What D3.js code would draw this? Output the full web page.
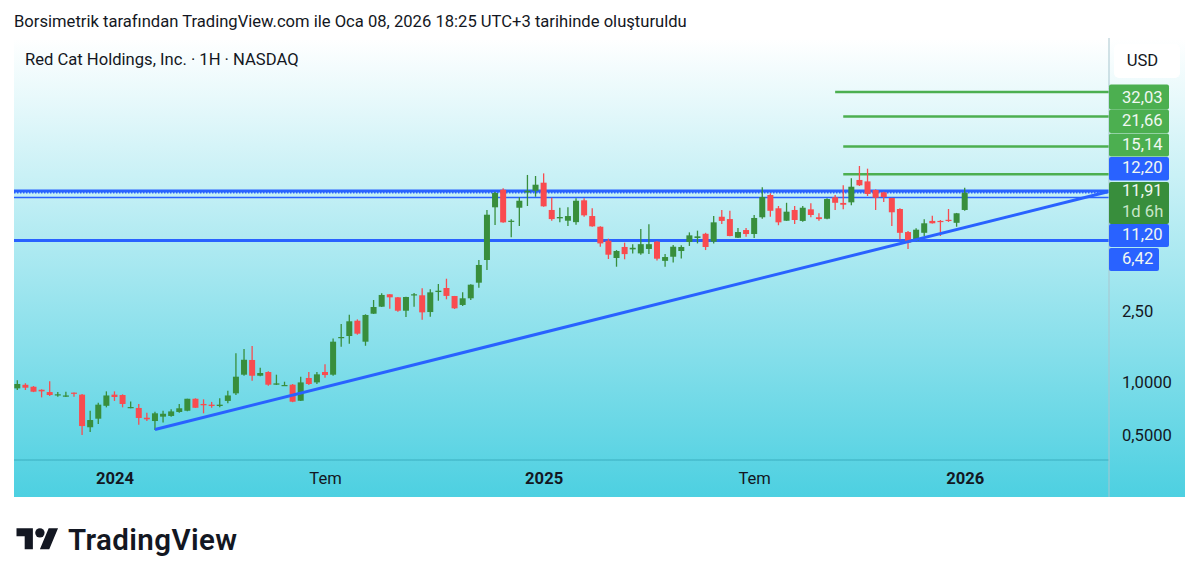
<!DOCTYPE html>
<html>
<head>
<meta charset="utf-8">
<script src="https://cdn.jsdelivr.net/npm/d3@7"></script>
<style>
    html, body { margin: 0; padding: 0; background: #fff; overflow: hidden; }
    text { font-family: Roboto, sans-serif; }
</style>
</head>
<body>
<div id="chart"></div>
<script>
// weekly candles
var opens = [
    .945, .99, .965, .928, .901, .867, .848, .894, .871, .571,
    .638, .754, .871, .867, .733, .733, .646, .619, .655, .661,
    .696, .707, .826, .772, .765, .752, .803, .886, 1.128, 1.365,
    1.113, 1.168, .991, .978, .991, .805, 1.081, 1.021, 1.168, 1.128,
    1.815, 1.862, 2.27, 1.73, 2.486, 2.722, 3.197, 3.074, 2.584, 3.156,
    3.156, 2.54, 3.292, 3.468, 3.126, 2.784, 3.035, 3.715, 4.985, 9.865,
    12.39, 8.19, 9.81, 11.97, 12.23, 13.57, 9.53, 8.55, 8.29, 8.14,
    10.8, 8.81, 7.67, 6.4, 5.115, 5.9, 5.72, 5.43, 5.75, 6.32,
    4.93, 5.2, 5.6, 6.3, 6.63, 7.0, 6.32, 8.73, 8.47, 6.65,
    7.35, 6.98, 8.67, 11.57, 9.74, 8.29, 9.53, 8.27, 9.61, 8.67,
    8.51, 11.23, 10.44, 10.52, 14.06, 13.8, 12.34, 11.97, 11.13, 9.65,
    7.16, 6.38, 7.09, 8.27, 8.27, 8.39, 8.07, 9.53
];
var highs = [
    1.05, 1.01, .974, .933, 1.035, .901, .905, .896, .879, .707,
    .785, .909, .909, .875, .798, .772, .69, .698, .707, .72,
    .772, .826, .831, .82, .793, .831, .917, 1.487, 1.573, 1.636,
    1.235, 1.178, 1.128, 1.03, 1.0, 1.099, 1.168, 1.168, 1.29, 1.8,
    2.177, 2.454, 2.31, 2.467, 2.969, 3.235, 3.2, 3.086, 3.1, 3.25,
    3.455, 3.41, 3.653, 3.911, 3.13, 3.278, 3.64, 4.985, 9.527, 12.07,
    12.62, 8.44, 11.23, 15.0, 14.8, 15.31, 11.17, 9.81, 9.87, 11.08,
    11.08, 9.74, 7.71, 6.57, 5.67, 6.24, 6.12, 7.45, 7.92, 6.38,
    5.38, 6.06, 6.04, 7.13, 7.29, 7.09, 8.81, 9.53, 9.43, 7.54,
    7.54, 8.93, 12.78, 11.83, 10.03, 10.46, 10.03, 10.03, 10.4, 9.13,
    11.08, 11.57, 13.12, 14.36, 16.85, 16.27, 12.45, 12.07, 11.17, 9.74,
    7.25, 7.52, 8.44, 8.85, 8.37, 9.65, 9.17, 12.72
];
var lows = [
    .925, .925, .9, .841, .856, .848, .845, .848, .517, .537,
    .596, .739, .803, .739, .73, .59, .619, .551, .608, .655,
    .69, .703, .733, .684, .735, .739, .78, .867, 1.113, 1.043,
    1.105, .978, .987, .974, .79, .803, .987, 1.0, 1.085, 1.113,
    1.62, 1.686, 1.894, 1.641, 2.478, 2.71, 2.652, 2.551, 2.382, 2.722,
    2.3, 2.39, 2.941, 2.996, 2.642, 2.747, 2.969, 3.481, 4.379, 7.85,
    8.07, 6.69, 7.74, 10.03, 11.31, 9.94, 8.29, 8.12, 7.74, 7.87,
    8.73, 7.67, 5.92, 5.05, 4.57, 5.03, 5.43, 5.34, 5.39, 4.96,
    4.57, 4.82, 5.09, 5.98, 6.18, 5.67, 6.18, 7.95, 6.78, 6.63,
    6.73, 6.63, 8.51, 8.73, 7.82, 8.27, 7.95, 8.19, 8.67, 8.29,
    8.44, 9.53, 9.61, 10.13, 13.0, 11.42, 9.53, 10.56, 7.74, 6.51,
    5.75, 6.36, 6.8, 8.0, 6.8, 8.16, 7.67, 9.43
];
var closes = [
    1.0, .953, .905, .909, .867, .875, .862, .882, .58, .627,
    .765, .862, .845, .772, .742, .644, .633, .684, .68, .701,
    .73, .826, .735, .759, .752, .765, .862, 1.099, 1.369, 1.113,
    1.153, .991, 1.008, .987, .795, 1.021, 1.0, 1.133, 1.123, 1.73,
    1.838, 2.253, 1.919, 2.445, 2.711, 3.169, 3.074, 2.584, 3.086, 3.197,
    2.53, 3.278, 3.349, 3.13, 2.666, 3.035, 3.62, 4.674, 8.962, 11.87,
    8.117, 8.29, 10.74, 12.23, 13.22, 9.99, 8.47, 8.7, 8.81, 10.74,
    8.89, 7.71, 6.18, 5.34, 5.6, 5.38, 5.84, 6.12, 6.12, 5.07,
    5.18, 5.92, 5.9, 6.86, 6.77, 5.9, 8.12, 8.27, 6.8, 7.16,
    6.98, 8.59, 11.27, 9.43, 8.12, 9.32, 8.37, 9.81, 8.93, 8.47,
    10.98, 10.46, 10.2, 12.88, 13.12, 11.73, 11.17, 11.27, 9.25, 7.09,
    6.25, 7.38, 8.02, 8.02, 8.16, 8.27, 9.13, 11.91
];

// drawn levels
var greenLevels = [43.9, 32.03, 21.66, 15.14];
var greenStarts = [101, 102, 102, 102];
var blueLevels = [12.20, 11.20, 6.42];
var lastPrice = 11.91;
var trendIdx = [17, 134.8];
var trendPrice = [.555, 12.1];

// axis labels
var priceTicks = [.5, 1, 2.5];
var priceTickLabels = ["0,5000", "1,0000", "2,50"];
var timeTicks = [12, 38, 65, 91, 117];
var timeTickLabels = ["2024", "Tem", "2025", "Tem", "2026"];
var tagLabels = ["", "32,03", "21,66", "15,14", "12,20", "11,91", "11,20", "6,42"];

var svgWidth = 1200;
var svgHeight = 581;
var fontSize = 16.6;
var pane = { left: 14, right: 1109, top: 38, bottom: 460, axisBottom: 497, axisRight: 1185 };

var svg = d3.select("#chart")
    .append("svg")
    .attr("width", svgWidth)
    .attr("height", svgHeight)
    .style("display", "block");

// background gradient runs over pane and both axes
var grad = svg.append("defs").append("linearGradient")
    .attr("id", "bg")
    .attr("x1", 0).attr("y1", 0)
    .attr("x2", 0).attr("y2", 1);
grad.append("stop").attr("offset", "0%").attr("stop-color", "#ffffff");
grad.append("stop").attr("offset", "100%").attr("stop-color", "#4dd0e1");

svg.append("rect")
    .attr("x", pane.left)
    .attr("y", pane.top)
    .attr("width", pane.axisRight - pane.left)
    .attr("height", pane.axisBottom - pane.top)
    .attr("fill", "url(#bg)");

svg.append("text")
    .attr("x", 14)
    .attr("y", 27)
    .attr("font-size", fontSize)
    .attr("fill", "#131722")
    .text("Borsimetrik tarafından TradingView.com ile Oca 08, 2026 18:25 UTC+3 tarihinde oluşturuldu");

// scales
var x = d3.scaleLinear().domain([0, 117]).range([17.3, 964.7]);
var y = d3.scaleLog().domain([.5, 32.03]).range([437.5, 116.4]);

// levels and trend line
var levelGroup = svg.append("g");

levelGroup.selectAll(".blue")
    .data(blueLevels)
    .enter()
    .append("line")
    .attr("class", "blue")
    .attr("x1", pane.left)
    .attr("x2", pane.right)
    .attr("y1", d => y(d))
    .attr("y2", d => y(d))
    .attr("stroke", "#2962ff")
    .attr("stroke-width", d => d === 11.20 ? 1.5 : 3);

levelGroup.append("line")
    .attr("x1", pane.left)
    .attr("x2", pane.right)
    .attr("y1", y(lastPrice))
    .attr("y2", y(lastPrice))
    .attr("stroke", "#2962ff")
    .attr("stroke-width", 1.5)
    .attr("stroke-dasharray", "1.5 1.5");

// candles
var candles = opens.map((d, i) => ({ i: i, o: d, h: highs[i], l: lows[i], c: closes[i] }));
var upColor = "#388e3c";
var downColor = "#f94b4f";

var candleGroup = svg.append("g");

candleGroup.selectAll(".wick")
    .data(candles)
    .enter()
    .append("line")
    .attr("class", "wick")
    .attr("x1", d => x(d.i))
    .attr("x2", d => x(d.i))
    .attr("y1", d => y(d.h))
    .attr("y2", d => y(d.l))
    .attr("stroke", d => d.c >= d.o ? upColor : downColor)
    .attr("stroke-width", 1.3);

candleGroup.selectAll(".body")
    .data(candles)
    .enter()
    .append("rect")
    .attr("class", "body")
    .attr("x", d => x(d.i) - 3)
    .attr("y", d => y(Math.max(d.o, d.c)))
    .attr("width", 6)
    .attr("height", d => Math.max(1.2, y(Math.min(d.o, d.c)) - y(Math.max(d.o, d.c))))
    .attr("fill", d => d.c >= d.o ? upColor : downColor);

levelGroup.append("g").selectAll("line")
    .data(greenLevels)
    .enter()
    .append("line")
    .attr("x1", (d, i) => x(greenStarts[i]))
    .attr("x2", pane.right)
    .attr("y1", d => y(d))
    .attr("y2", d => y(d))
    .attr("stroke", "#4caf50")
    .attr("stroke-width", 2.5);

svg.append("line")
    .attr("x1", x(trendIdx[0]))
    .attr("x2", x(trendIdx[1]))
    .attr("y1", y(trendPrice[0]))
    .attr("y2", y(trendPrice[1]))
    .attr("stroke", "#2962ff")
    .attr("stroke-width", 3);

// axes
var priceAxis = d3.axisRight(y)
    .tickValues(priceTicks)
    .tickSize(0)
    .tickPadding(13)
    .tickFormat((d, i) => priceTickLabels[i]);

var priceAxisG = svg.append("g")
    .attr("transform", `translate(${pane.right}, 0)`)
    .call(priceAxis);
priceAxisG.select(".domain").remove();
priceAxisG.selectAll("text")
    .attr("font-family", "Roboto, sans-serif")
    .attr("font-size", fontSize)
    .attr("fill", "#131722")
    .attr("dy", "0.2em");

var timeAxis = d3.axisBottom(x)
    .tickValues(timeTicks)
    .tickSize(0)
    .tickPadding(12)
    .tickFormat((d, i) => timeTickLabels[i]);

var timeAxisG = svg.append("g")
    .attr("transform", `translate(0, ${pane.bottom})`)
    .call(timeAxis);
timeAxisG.select(".domain").remove();
timeAxisG.selectAll("text")
    .attr("font-family", "Roboto, sans-serif")
    .attr("font-size", fontSize)
    .attr("fill", "#131722")
    .attr("font-weight", (d, i) => i % 2 === 0 ? 700 : 400);

// pane borders
svg.append("line")
    .attr("x1", pane.left)
    .attr("x2", pane.right)
    .attr("y1", pane.bottom)
    .attr("y2", pane.bottom)
    .attr("stroke", "#3aaebf")
    .attr("stroke-width", 1);

svg.append("line")
    .attr("x1", pane.right)
    .attr("x2", pane.right)
    .attr("y1", pane.top)
    .attr("y2", pane.axisBottom)
    .attr("stroke", "#a9c6cf")
    .attr("stroke-width", 1);

// price tags on the axis, pushed apart the way the platform stacks them
var tagTops = [84.5, 86.5, 109.5, 133.5, 157, 182, 224, 248];
var tagHeights = [24, 23, 23.5, 23, 23.5, 42, 23, 23];
var tagWidths = [60, 60, 60, 60, 60, 60, 60, 50];
var tagFills = ["#4caf50", "#4caf50", "#4caf50", "#4caf50", "#2962ff", "#388e3c", "#2962ff", "#2962ff"];
var tagBaselines = [0, 103, 126, 150, 173, 196, 240, 264];

var tagGroup = svg.append("g");

tagGroup.selectAll("rect")
    .data(tagLabels)
    .enter()
    .append("rect")
    .attr("x", pane.right)
    .attr("y", (d, i) => tagTops[i])
    .attr("width", (d, i) => tagWidths[i])
    .attr("height", (d, i) => tagHeights[i])
    .attr("rx", 2)
    .attr("fill", (d, i) => tagFills[i]);

tagGroup.selectAll("text")
    .data(tagLabels)
    .enter()
    .append("text")
    .attr("x", pane.right + 13)
    .attr("y", (d, i) => tagBaselines[i])
    .attr("font-size", fontSize)
    .attr("fill", "#f1f8f2")
    .text(d => d);

tagGroup.append("text")
    .attr("x", pane.right + 13)
    .attr("y", 217)
    .attr("font-size", fontSize)
    .attr("fill", "#c8e6c9")
    .text("1d 6h");

// currency button
svg.append("rect")
    .attr("x", 1114)
    .attr("y", 44)
    .attr("width", 66)
    .attr("height", 34)
    .attr("rx", 5)
    .attr("fill", "#ffffff");

svg.append("text")
    .attr("x", 1142.5)
    .attr("y", 66)
    .attr("text-anchor", "middle")
    .attr("font-size", fontSize)
    .attr("fill", "#131722")
    .text("USD");

// symbol legend
svg.append("text")
    .attr("x", 25)
    .attr("y", 65)
    .attr("font-size", fontSize)
    .attr("fill", "#131722")
    .text("Red Cat Holdings, Inc. · 1H · NASDAQ");

// logo
var logo = svg.append("g")
    .attr("transform", "translate(16.5, 523.5) scale(1.17)")
    .attr("fill", "#131722");
logo.append("path").attr("d", "M14 22H7V11H0V4h14v18zM28 22h-8l7.5-18h8L28 22z");
logo.append("circle").attr("cx", 20).attr("cy", 8).attr("r", 4);

svg.append("text")
    .attr("x", 68)
    .attr("y", 550)
    .attr("font-family", "Inter, sans-serif")
    .attr("font-size", 29.5)
    .attr("font-weight", 600)
    .attr("letter-spacing", 0.4)
    .attr("fill", "#131722")
    .text("TradingView");
</script>
</body>
</html>
